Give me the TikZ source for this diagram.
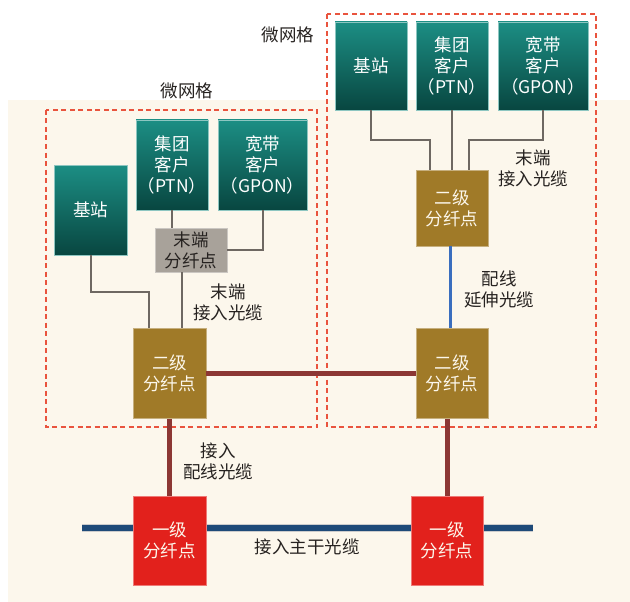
\documentclass[tikz,border=0pt]{standalone}
\usepackage{fontspec}
\newfontfamily\cjk{Noto Sans CJK SC}
\definecolor{cream}{RGB}{252,247,236}
\definecolor{tealtop}{RGB}{28,142,132}
\definecolor{tealbot}{RGB}{8,70,64}
\definecolor{gold}{RGB}{160,122,40}
\definecolor{boxred}{RGB}{226,33,28}
\definecolor{boxgrey}{RGB}{168,162,154}
\definecolor{dashred}{RGB}{233,84,62}
\definecolor{brownred}{RGB}{140,55,52}
\definecolor{trunkblue}{RGB}{30,74,120}
\definecolor{extblue}{RGB}{58,110,190}
\definecolor{wire}{RGB}{110,104,98}
\definecolor{ink}{RGB}{38,34,32}
\tikzset{
	box/.style={rectangle,inner sep=0pt,align=center,font=\cjk\fontsize{17.5}{21}\selectfont},
	tealbox/.style={box,top color=tealtop,bottom color=tealbot,draw=tealtop!50!white,line width=.6pt,text=white,minimum width=72pt,minimum height=88pt},
	goldbox/.style={box,fill=gold,draw=gold!60!white,line width=.6pt,text=cream,minimum width=72pt,minimum height=90pt},
	redbox/.style={box,fill=boxred,draw=boxred!60!white,line width=.6pt,text=cream,minimum width=72pt,minimum height=89pt},
	greybox/.style={box,fill=boxgrey,draw=boxgrey!60!white,line width=.6pt,text=ink,minimum width=72pt,minimum height=44pt},
	cable/.style={box,text=ink},
	mesh/.style={draw=dashred,line width=1.5pt,dash pattern=on 5pt off 3.5pt},
	wire/.style={draw=wire,line width=2pt},
}
\begin{document}
\begin{tikzpicture}[x=1pt,y=-1pt]
	\useasboundingbox (0,0) rectangle (630,602);
	\fill[cream] (8,100) rectangle (630,602);
	% micro grids
	\draw[mesh] (327,14) rectangle (596,427);
	\draw[mesh] (46,110) rectangle (317,427);
	\node[cable] (gridR) at (288,35) {微网格};
	\node[cable] (gridL) at (187,91) {微网格};
	% trunk cable
	\coordinate (tl) at (82,528);
	\coordinate (tr) at (533,528);
	\draw[line width=8.5pt,black!20] (tl)--(tr);
	\draw[line width=6.5pt,trunkblue] (tl)--(tr);
	% right grid
	\node[tealbox] (rjz) at (371,66) {基站};
	\node[tealbox] (rjt) at (452,66) {集团\\客户\\（PTN）};
	\node[tealbox,minimum width=90pt] (rkd) at (543,66) {宽带\\客户\\（GPON）};
	\node[goldbox,minimum height=76pt] (r2a) at (452,208) {二级\\分纤点};
	\node[goldbox] (r2b) at (452,373.5) {二级\\分纤点};
	% left grid
	\node[tealbox,minimum height=90pt] (ljt) at (172,165) {集团\\客户\\（PTN）};
	\node[tealbox,minimum width=89pt,minimum height=90pt] (lkd) at (262.5,165) {宽带\\客户\\（GPON）};
	\node[tealbox,minimum width=73pt,minimum height=90pt] (ljz) at (90.5,210) {基站};
	\node[greybox] (lmd) at (191,250) {末端\\分纤点};
	\node[goldbox,minimum width=73pt] (l2) at (169.5,373.5) {二级\\分纤点};
	% first level
	\node[redbox,minimum width=73pt] (l1) at (169.5,540.5) {一级\\分纤点};
	\node[redbox] (r1) at (447,540.5) {一级\\分纤点};
	% drop cables
	\draw[wire] (rjz.south)--++(0,30)-|([xshift=-22pt]r2a.north);
	\draw[wire] (rjt.south)--(r2a.north);
	\draw[wire] (rkd.south)--++(0,30)-|([xshift=17pt]r2a.north);
	\draw[wire] (ljt.south)--(ljt.south|-lmd.north);
	\draw[wire] (lkd.south)|-(lmd.east);
	\draw[wire] (ljz.south)--++(0,37)-|([xshift=-20.5pt]l2.north);
	\draw[wire] ([xshift=-9pt]lmd.south)--([xshift=-9pt]lmd.south|-l2.north);
	% distribution cables
	\draw[line width=3pt,extblue] ([xshift=-2pt]r2a.south)--([xshift=-2pt]r2b.north);
	\draw[line width=5pt,brownred] (l2.east)--(r2b.west);
	\draw[line width=5pt,brownred] (l2.south)--(l1.north);
	\draw[line width=5pt,brownred] (r1.north|-r2b.south)--(r1.north);
	% cable labels
	\node[cable] (dropR) at (533,168) {末端\\接入光缆};
	\node[cable] (dropL) at (228,302) {末端\\接入光缆};
	\node[cable] (ext) at (499,289) {配线\\延伸光缆};
	\node[cable] (dist) at (218,461) {接入\\配线光缆};
	\node[cable] (trunk) at (307,547) {接入主干光缆};
\end{tikzpicture}
\end{document}
